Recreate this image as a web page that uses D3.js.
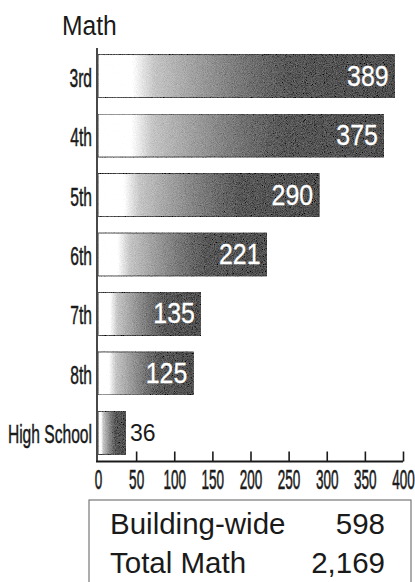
<!DOCTYPE html>
<html>
<head>
<meta charset="utf-8">
<script src="https://cdn.jsdelivr.net/npm/d3@7/dist/d3.min.js"></script>
<style>
  html, body { margin: 0; padding: 0; background: #fff; }
  svg { display: block; }
  text { font-family: "Liberation Sans", Arial, Helvetica, sans-serif; }
</style>
</head>
<body>
<script>
// Math counts by grade
const categories = ["3rd", "4th", "5th", "6th", "7th", "8th", "High School"];
const values = [389, 375, 290, 221, 135, 125, 36];
const tickValues = [0, 50, 100, 150, 200, 250, 300, 350, 400];
const summaryLabels = ["Building-wide", "Total Math"];
const summaryValues = ["598", "2,169"];
const title = "Math";

const W = 415, H = 582;
const ink = "#1a1a1a";
const svg = d3.select("body").append("svg").attr("width", W).attr("height", H);

const defs = svg.append("defs");
const grad = defs.append("linearGradient")
  .attr("id", "barFill")
  .attr("x1", 0).attr("y1", 0).attr("x2", 1).attr("y2", 0);
[
  [0, "#ffffff"], [0.11, "#ffffff"], [0.19, "#bdbdbd"], [0.35, "#8f8f8f"],
  [0.5, "#636363"], [0.64, "#3e3e3e"], [1, "#303030"]
].forEach(([o, c]) => grad.append("stop").attr("offset", o).attr("stop-color", c));

// fine speckle over the shaded bars
const grain = defs.append("filter").attr("id", "grain")
  .attr("x", 0).attr("y", 0).attr("width", 1).attr("height", 1);
grain.append("feTurbulence").attr("type", "fractalNoise")
  .attr("baseFrequency", 1.1).attr("numOctaves", 2).attr("seed", 7).attr("result", "t");
grain.append("feColorMatrix").attr("in", "t").attr("type", "matrix")
  .attr("values", "0.33 0.33 0.33 0 0  0.33 0.33 0.33 0 0  0.33 0.33 0.33 0 0  0 0 0 0 1")
  .attr("result", "n");
grain.append("feComposite").attr("in", "SourceGraphic").attr("in2", "n")
  .attr("operator", "arithmetic")
  .attr("k1", 0).attr("k2", 1).attr("k3", 0.5).attr("k4", -0.2).attr("result", "mix");
grain.append("feComposite").attr("in", "mix").attr("in2", "SourceGraphic").attr("operator", "in");

const x = d3.scaleLinear().domain([0, 400]).range([98, 403]);
const y = d3.scaleBand().domain(categories).range([48, 461])
  .paddingInner(0.276).paddingOuter(0.11);

// title
svg.append("text")
  .attr("transform", "translate(62,35) scale(0.88,1)")
  .attr("font-size", 28).attr("fill", ink).text(title);

// bars
const data = categories.map((c, i) => ({ cat: c, val: values[i] }));
svg.append("g").selectAll("rect").data(data).join("rect")
  .attr("x", x(0))
  .attr("y", d => y(d.cat))
  .attr("width", d => x(d.val) - x(0))
  .attr("height", y.bandwidth())
  .attr("fill", "url(#barFill)")
  .attr("stroke", "#222")
  .attr("stroke-width", 1)
  .attr("filter", "url(#grain)");

// value labels: inside in white, or outside in black for short bars
const valG = svg.append("g");
data.forEach(d => {
  const inside = x(d.val) - x(0) > 60;
  const cy = y(d.cat) + y.bandwidth() / 2;
  if (inside) {
    valG.append("text")
      .attr("transform", `translate(${x(d.val) - 6},${cy + 9.5}) scale(0.86,1)`)
      .attr("text-anchor", "end")
      .attr("font-size", 29)
      .attr("fill", "#fff")
      .attr("stroke", "#fff").attr("stroke-width", 0.3)
      .text(d.val);
  } else {
    valG.append("text")
      .attr("x", x(d.val) + 4.5).attr("y", cy + 8.5)
      .attr("font-size", 23)
      .attr("fill", ink)
      .text(d.val);
  }
});

// category axis
const yAxis = svg.append("g");
yAxis.append("line")
  .attr("x1", x(0) - 1).attr("x2", x(0) - 1)
  .attr("y1", 48).attr("y2", 462)
  .attr("stroke", ink).attr("stroke-width", 1.6);
yAxis.selectAll("text").data(categories).join("text")
  .attr("transform", d => `translate(92,${y(d) + y.bandwidth() / 2 + 10.5}) scale(0.6,1)`)
  .attr("text-anchor", "end")
  .attr("font-size", 26)
  .attr("fill", ink)
  .attr("stroke", ink).attr("stroke-width", 0.5)
  .text(d => d);

// value axis
const xAxis = d3.axisTop(x).tickValues(tickValues).tickSize(10).tickFormat("");
const xg = svg.append("g").attr("transform", "translate(0,461.5)").call(xAxis);
xg.select(".domain").attr("stroke", ink).attr("stroke-width", 2)
  .attr("d", `M${x(0) - 2},0H${x(400)}`);
xg.selectAll(".tick line").attr("stroke", ink).attr("stroke-width", 1.6);
xg.selectAll(".tick").filter(d => d === 0).select("line").remove();
svg.append("g").selectAll("text").data(tickValues).join("text")
  .attr("transform", d => `translate(${x(d) + 0.5},488.5) scale(0.5,1)`)
  .attr("text-anchor", "middle")
  .attr("font-size", 27)
  .attr("fill", ink)
  .attr("stroke", ink).attr("stroke-width", 0.6)
  .text(d => d);

// summary box
svg.append("rect").attr("x", 89).attr("y", 500).attr("width", 322).attr("height", 100)
  .attr("fill", "none").attr("stroke", "#777").attr("stroke-width", 1.2);
const sg = svg.append("g");
summaryLabels.forEach((t, i) => {
  sg.append("text").attr("x", 110).attr("y", 534 + i * 39)
    .attr("font-size", 29.5).attr("fill", ink).text(t);
  sg.append("text").attr("x", 385).attr("y", 534 + i * 39)
    .attr("text-anchor", "end")
    .attr("font-size", 29.5).attr("fill", ink).text(summaryValues[i]);
});
</script>
</body>
</html>
